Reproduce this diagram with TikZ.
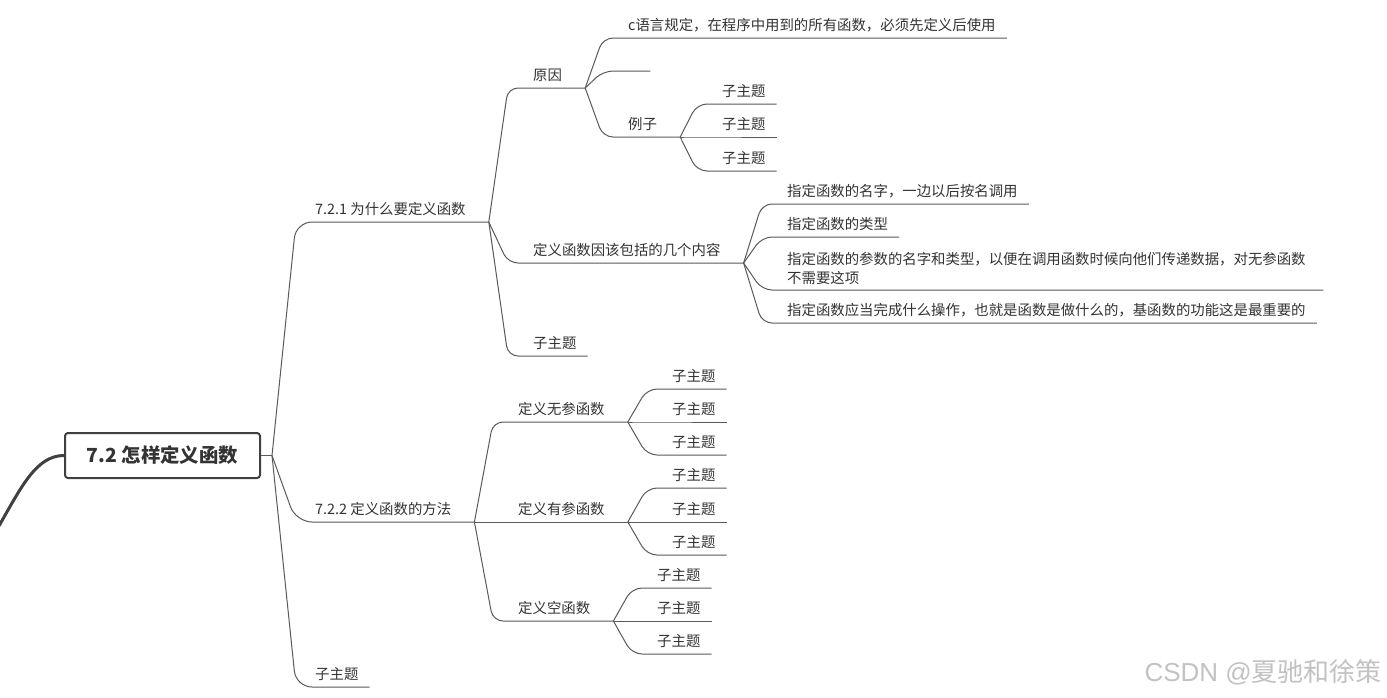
\documentclass[tikz,border=0pt]{standalone}
\usepackage{fontspec}
\setmainfont{Noto Sans CJK SC}
\newfontfamily\wmlatin{Liberation Sans}
\usetikzlibrary{calc}
\definecolor{linec}{HTML}{5A5A5A}
\definecolor{textc}{HTML}{333333}
\definecolor{rootc}{HTML}{404040}
\definecolor{wmc}{HTML}{C2C2C2}
\begin{document}
\begin{tikzpicture}[x=1pt,y=-1pt,
  topicbase/.style={anchor=south west, inner xsep=11pt, inner ysep=7pt,
    font=\fontsize{14.4}{19}\selectfont, text=textc},
  topic/.style={topicbase, text depth=0pt},
  conn/.style={draw=linec, line width=1pt, rounded corners=10pt},
  conntop/.style={conn, rounded corners=16pt},
  rootbox/.style={draw=rootc, line width=2pt, rounded corners=3pt, fill=white,
    minimum width=195pt, minimum height=45pt, inner sep=0pt,
    font=\fontsize{19.4}{22}\selectfont\bfseries, text=textc},
  wmtext/.style={font=\fontsize{26}{28}\selectfont, text=wmc, inner sep=0pt}]
\clip (0,0) rectangle (1387,697);
\fill[white] (0,0) rectangle (1387,697);

% root
\node[rootbox] (root) at (162.5,455.5) {7.2 怎样定义函数};
\coordinate (off) at (-4,531);
\draw[rootc, line width=3pt] (off) .. controls (20,490) and (35,455.5) .. (root.west);
\coordinate (Rb) at ([xshift=11pt]root.east);

% level 1
\node[topic] (n1) at (304,222) {7.2.1 为什么要定义函数};
\node[topic] (n2) at (304,522) {7.2.2 定义函数的方法};
\node[topic] (n3) at (304,687) {子主题};
\coordinate (n1b) at ([xshift=12pt]n1.south east);
\coordinate (n2b) at ([xshift=12pt]n2.south east);

% under 7.2.1
\node[topic] (n11) at (522,88) {原因};
\node[topic] (n12) at (522,263) {定义函数因该包括的几个内容};
\node[topic] (n13) at (522,356) {子主题};
\coordinate (n11b) at ([xshift=12pt]n11.south east);
\coordinate (n12b) at ([xshift=12pt]n12.south east);

% under 原因
\node[topic] (n111) at (617,38) {c语言规定，在程序中用到的所有函数，必须先定义后使用};
\node[topic, minimum width=33pt] (n112) at (617,71) {};
\node[topic] (n113) at (617,137) {例子};
\coordinate (n113b) at ([xshift=12pt]n113.south east);

% under 例子
\node[topic] (n1131) at (711,104) {子主题};
\node[topic] (n1132) at (711,137) {子主题};
\node[topic] (n1133) at (711,171) {子主题};

% under 定义函数因该包括的几个内容
\node[topic] (n121) at (776,204) {指定函数的名字，一边以后按名调用};
\node[topic] (n122) at (776,237) {指定函数的类型};
\node[topicbase, inner ysep=5.5pt, text width=525pt, align=left] (n123) at (776,290)
  {指定函数的参数的名字和类型，以便在调用函数时候向他们传递数据，对无参函数\\不需要这项};
\node[topic] (n124) at (776,323) {指定函数应当完成什么操作，也就是函数是做什么的，基函数的功能这是最重要的};

% under 7.2.2
\node[topic] (n21) at (507,422) {定义无参函数};
\node[topic] (n22) at (507,522) {定义有参函数};
\node[topic] (n23) at (507,621) {定义空函数};
\coordinate (n21b) at ([xshift=12pt]n21.south east);
\coordinate (n22b) at ([xshift=12pt]n22.south east);
\coordinate (n23b) at ([xshift=12pt]n23.south east);

\node[topic] (n211) at (661,389) {子主题};
\node[topic] (n212) at (661,422) {子主题};
\node[topic] (n213) at (661,455) {子主题};
\node[topic] (n221) at (661,488) {子主题};
\node[topic] (n222) at (661,522) {子主题};
\node[topic] (n223) at (661,555) {子主题};
\node[topic] (n231) at (646,588) {子主题};
\node[topic] (n232) at (646,621) {子主题};
\node[topic] (n233) at (646,654) {子主题};

% connectors
\draw[conn] (root.east) -- (Rb);
\draw[conntop] (Rb) -- ([xshift=-8pt]n1.south west) -- (n1b);
\draw[conntop] (Rb) -- ([xshift=-8pt]n2.south west) -- (n2b);
\draw[conntop] (Rb) -- ([xshift=-8pt]n3.south west) -- (n3.south east);

\draw[conn] (n1b) -- ([xshift=-14pt]n11.south west) -- (n11b);
\draw[conn] (n1b) -- ([xshift=-14pt]n12.south west) -- (n12b);
\draw[conn] (n1b) -- ([xshift=-14pt]n13.south west) -- (n13.south east);

\draw[conn] (n11b) -- ([xshift=-14pt]n111.south west) -- (n111.south east);
\draw[conn] (n11b) -- ([xshift=-14pt]n112.south west) -- (n112.south east);
\draw[conn] (n11b) -- ([xshift=-14pt]n113.south west) -- (n113b);

\foreach \c in {n1131,n1132,n1133}
  \draw[conn] (n113b) -- ([xshift=-14pt]\c.south west) -- (\c.south east);

\foreach \c in {n121,n122,n123,n124}
  \draw[conn] (n12b) -- ([xshift=-14pt]\c.south west) -- (\c.south east);

\draw[conn] (n2b) -- ([xshift=-14pt]n21.south west) -- (n21b);
\draw[conn] (n2b) -- ([xshift=-14pt]n22.south west) -- (n22b);
\draw[conn] (n2b) -- ([xshift=-14pt]n23.south west) -- (n23b);

\foreach \c in {n211,n212,n213}
  \draw[conn] (n21b) -- ([xshift=-14pt]\c.south west) -- (\c.south east);
\foreach \c in {n221,n222,n223}
  \draw[conn] (n22b) -- ([xshift=-14pt]\c.south west) -- (\c.south east);
\foreach \c in {n231,n232,n233}
  \draw[conn] (n23b) -- ([xshift=-14pt]\c.south west) -- (\c.south east);

% watermark
\node[wmtext, anchor=east] (wm) at (1382,672) {{\wmlatin CSDN @}夏驰和徐策};
\end{tikzpicture}
\end{document}
